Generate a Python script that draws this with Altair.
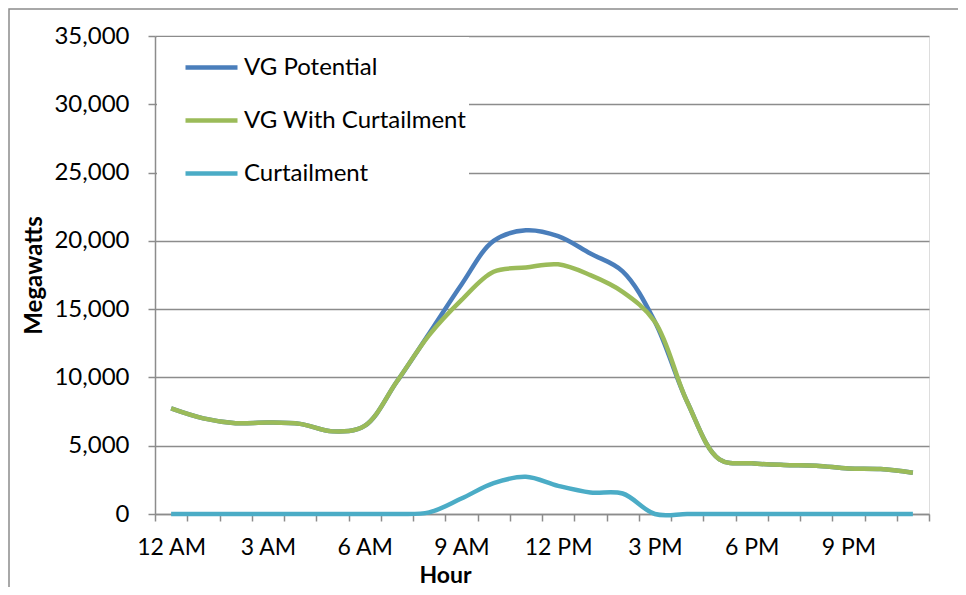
import altair as alt
import pandas as pd

hours = list(range(24))
tick_labels = ["12 AM", "", "", "3 AM", "", "", "6 AM", "", "", "9 AM", "", "",
               "12 PM", "", "", "3 PM", "", "", "6 PM", "", "", "9 PM", "", ""]
series_names = ["VG Potential", "VG With Curtailment", "Curtailment"]
series_colors = ["#4A7EBB", "#9BBB59", "#4BACC6"]

vg_with_curtailment = [7730, 7000, 6650, 6700, 6600, 6050, 6450, 9700, 13100, 15660,
                       17740, 18050, 18280, 17490, 16270, 14080, 8220, 4000, 3710,
                       3590, 3540, 3340, 3290, 3020]
curtailment = [0, 0, 0, 0, 0, 0, 0, 0, 120, 1130, 2260, 2720, 2060, 1580, 1500, 0,
               0, 0, 0, 0, 0, 0, 0, 0]
vg_potential = [a + b for a, b in zip(vg_with_curtailment, curtailment)]

rows = []
for name, vals in zip(series_names, [vg_potential, vg_with_curtailment, curtailment]):
    for h, v in zip(hours, vals):
        rows.append({"hour": h, "series": name, "mw": v})
df = pd.DataFrame(rows)

FONT = "Lato"
FS = 24
GRID = "#8C8C8C"

label_expr = "[" + ",".join("'" + t + "'" for t in tick_labels) + "][datum.value]"

lines = alt.Chart(df).mark_line(strokeWidth=4.5, interpolate="catmull-rom").encode(
    x=alt.X("hour:O", bandPosition=0.5,
            scale=alt.Scale(type="band", paddingInner=0, paddingOuter=0),
            axis=alt.Axis(title="Hour", labelExpr=label_expr, labelAngle=0,
                          labelOverlap=False, tickBand="extent", tickSize=7,
                          tickColor=GRID, tickWidth=1.5, domainColor=GRID,
                          domainWidth=1.5, grid=False, labelFont=FONT,
                          labelFontSize=23, labelColor="#000000",
                          labelBaseline="alphabetic", labelPadding=33,
                          titleFont=FONT, titleFontSize=23, titleFontWeight="bold",
                          titleColor="#000000", titleX=290, titleY=68,
                          titleBaseline="alphabetic", titleAlign="center")),
    y=alt.Y("mw:Q", scale=alt.Scale(domain=[0, 35000], nice=False),
            axis=alt.Axis(title="Megawatts", values=list(range(0, 35001, 5000)),
                          format=",.0f", tickSize=7, tickColor=GRID, tickWidth=1.5,
                          domainColor=GRID, domainWidth=1.5, gridColor=GRID,
                          gridWidth=1.5, labelFont=FONT, labelFontSize=FS,
                          labelColor="#000000", labelPadding=19, titleFont=FONT,
                          titleFontSize=FS, titleFontWeight="bold",
                          titleColor="#000000", titleX=-121, titleY=239,
                          titleBaseline="middle", titleAngle=-90, titleAlign="center")),
    color=alt.Color("series:N",
                    scale=alt.Scale(domain=series_names, range=series_colors),
                    legend=alt.Legend(title=None, orient="none", legendX=2, legendY=1,
                                      padding=2, fillColor="#FFFFFF",
                                      symbolType="stroke", symbolSize=2704,
                                      symbolStrokeWidth=4.5, symbolOffset=24,
                                      labelFont=FONT, labelFontSize=FS,
                                      labelColor="#000000", labelOffset=4,
                                      rowPadding=12, labelLimit=400)),
)

border = alt.Chart(alt.Data(values=[{"a": 1}])).mark_rect(
    filled=False, stroke="#8C8C8C", strokeWidth=1.5
).encode(x=alt.value(-146), x2=alt.value(900), y=alt.value(-27), y2=alt.value(700))

chart = alt.layer(border, lines).properties(
    width=774, height=478,
    autosize=alt.AutoSizeParams(type="none"),
    padding={"left": 147, "top": 28, "right": 29, "bottom": 73},
).configure_view(stroke=None).configure(background="#FFFFFF")

chart.save("out.html", embed_options={"renderer": "svg", "actions": False})
